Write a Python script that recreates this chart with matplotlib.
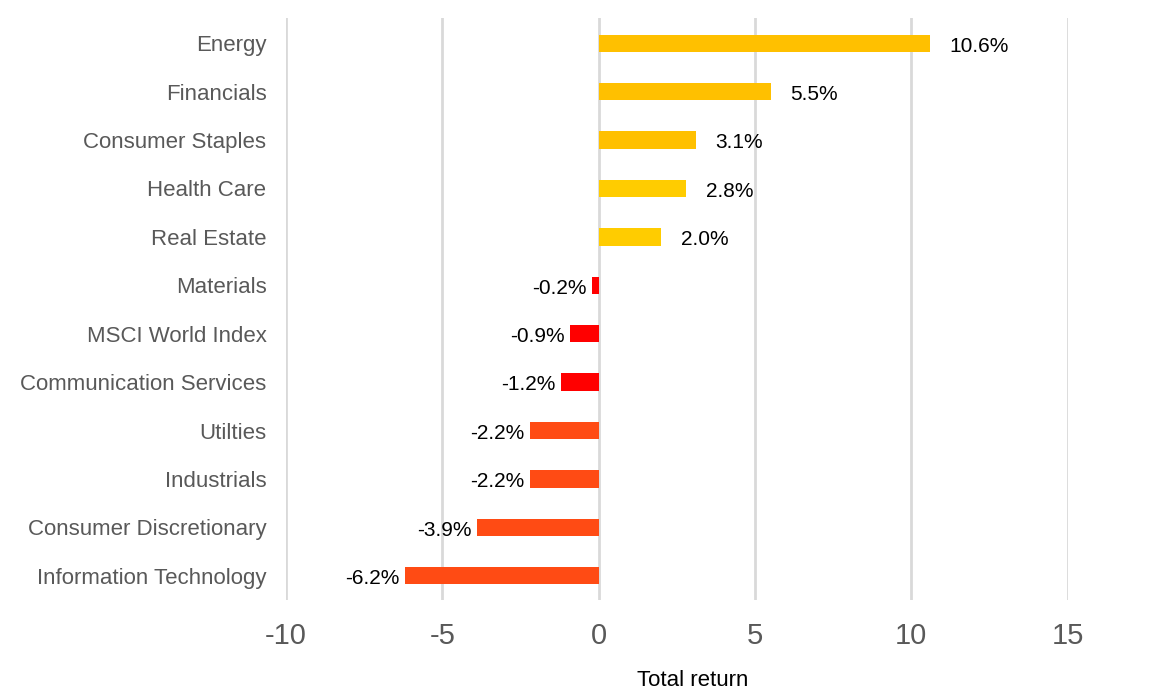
import matplotlib
matplotlib.use("Agg")
import matplotlib.pyplot as plt

# sector total returns (%)
sectors = ["Energy", "Financials", "Consumer Staples", "Health Care", "Real Estate",
           "Materials", "MSCI World Index", "Communication Services", "Utilties",
           "Industrials", "Consumer Discretionary", "Information Technology"]
returns = [10.6, 5.5, 3.1, 2.8, 2.0, -0.2, -0.9, -1.2, -2.2, -2.2, -3.9, -6.2]
bar_colors = ["#FFC000", "#FFC000", "#FFC000", "#FFCC00", "#FFCC00",
              "#FF0000", "#FF0000", "#FF0000", "#FF4B14", "#FF4B14", "#FF4B14", "#FF4B14"]
xticks = [-10, -5, 0, 5, 10, 15]

plt.rcParams['font.family'] = ['Liberation Sans', 'DejaVu Sans']

fig = plt.figure(figsize=(11.53, 6.96), dpi=100)
ax = fig.add_axes([0.248, 0.138, 0.678, 0.836])

ypos = list(range(len(sectors)))
ax.barh(ypos, returns, height=0.36, color=bar_colors, zorder=3)

for i, v in enumerate(returns):
    if v >= 0:
        ax.annotate(f"{v:.1f}%", (v, i), xytext=(14, -2), textcoords="offset points",
                    ha="left", va="center", fontsize=15, color="black")
    else:
        ax.annotate(f"{v:.1f}%", (v, i), xytext=(-4, -2), textcoords="offset points",
                    ha="right", va="center", fontsize=15, color="black")

ax.set_xlim(-10, 15)
ax.set_ylim(11.5, -0.52)
ax.set_xticks(xticks)
ax.set_xticklabels([str(t) for t in xticks])
ax.set_yticks(ypos)
ax.set_yticklabels(sectors)
ax.grid(axis="x", color="#D9D9D9", linewidth=2, zorder=0)
ax.grid(axis="y", visible=False)
for s in ax.spines.values():
    s.set_visible(False)
ax.tick_params(axis="x", length=0, pad=16, labelsize=21, labelcolor="#595959")
ax.tick_params(axis="y", length=0, pad=14, labelsize=16, labelcolor="#595959")
ax.set_xlabel("Total return", fontsize=16, color="black", labelpad=14, x=0.52)

fig.savefig("out.png", dpi=100)
